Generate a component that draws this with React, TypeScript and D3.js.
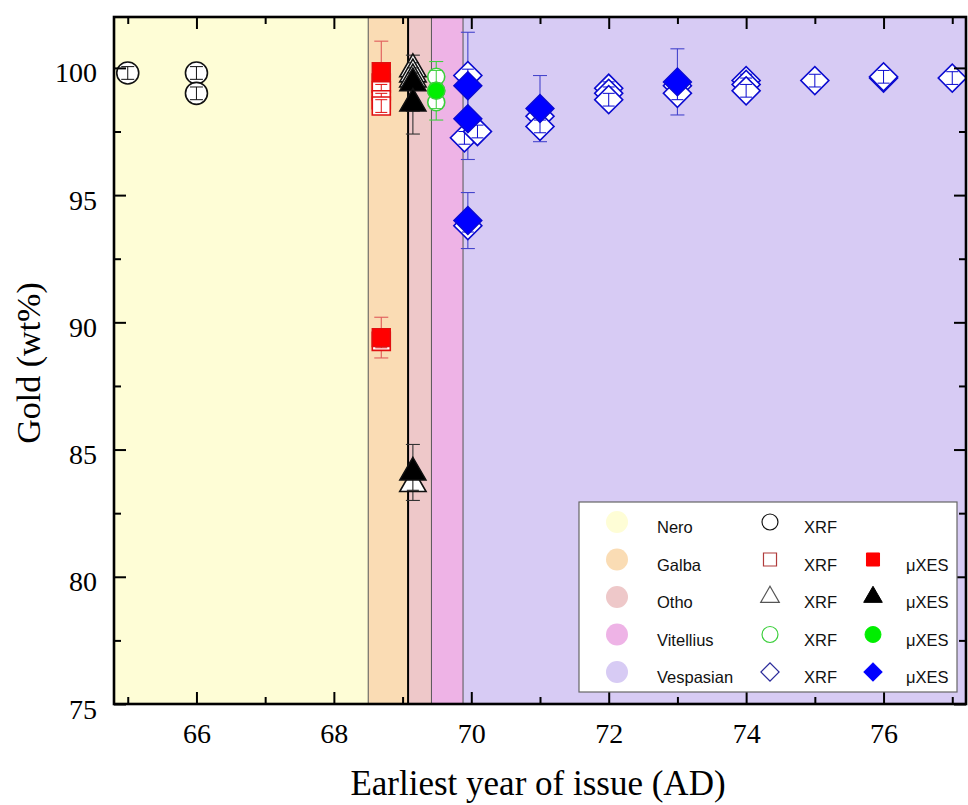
import React, { useEffect, useRef } from 'react';
import * as d3 from 'd3';

// reign bands (earliest year of issue, AD)
const emperors = ['Nero', 'Galba', 'Otho', 'Vitellius', 'Vespasian'];
const reignStart = [64.8, 68.5, 69.08, 69.42, 69.88];
const reignEnd = [68.5, 69.08, 69.42, 69.88, 77.2];

// XRF points: [year, gold wt%]
const neroXrf = [[65, 99.8], [66, 99.8], [66, 99.0]];
const galbaXrf = [[68.69, 99.4], [68.69, 99.1], [68.69, 98.75], [68.69, 98.5], [68.69, 89.25]];
const othoXrf = [[69.15, 99.95], [69.15, 99.75], [69.15, 99.55], [69.15, 83.65]];
const vitelliusXrf = [[69.49, 99.65], [69.49, 99.1], [69.49, 98.65]];
const vespasianXrf = [
  [69.95, 99.7], [69.9, 97.25], [70.09, 97.5], [69.95, 93.8],
  [71, 98.1], [71, 97.7], [72, 99.2], [72, 99.0], [72, 98.75],
  [73, 99.3], [73, 99.0], [74, 99.5], [74, 99.35], [74, 99.1],
  [75, 99.5], [76, 99.6], [76, 99.65], [77, 99.6],
];
const xrfErr = 0.25;

// µXES points: [year, gold wt%, error]
const galbaXes = [[68.69, 99.85, 1.2], [68.69, 89.4, 0.8]];
const othoXes = [[69.15, 99.4, 1.1], [69.15, 98.6, 1.2], [69.15, 84.1, 1.1]];
const vitelliusXes = [[69.49, 99.1, 1.15]];
const vespasianXes = [
  [69.95, 99.3, 2.1], [69.95, 98.0, 1.6], [69.95, 94.0, 1.1],
  [71, 98.4, 1.3], [73, 99.45, 1.3],
];

const xTicks = [66, 68, 70, 72, 74, 76];
const xMinor = [65, 67, 69, 71, 73, 75, 77];
const yTicks = [75, 80, 85, 90, 95, 100];
const yMinor = [77.5, 82.5, 87.5, 92.5, 97.5];

const styles = {
  Nero: { band: '#fefdd6', shape: 'circle', area: 380, legendArea: 200, line: '#111', fill: '#ffffff', bar: '#111' },
  Galba: { band: '#fadcb4', shape: 'square', area: 324, legendArea: 170, line: '#e01010', fill: '#ff0000', bar: '#e05a5a', legendLine: '#b03a3a' },
  Otho: { band: '#eec8c9', shape: 'triangle', area: 300, legendArea: 150, line: '#111', fill: '#000000', bar: '#333', legendLine: '#555' },
  Vitellius: { band: '#eeb3e6', shape: 'circle', area: 227, legendArea: 200, line: '#3ccf3c', fill: '#00ee00', bar: '#40d040' },
  Vespasian: { band: '#d7cbf4', shape: 'diamond', area: 392, legendArea: 165, line: '#0a0ad0', fill: '#0000ff', bar: '#4545cc', legendLine: '#2a2a9a' },
};

const xrfByEmperor = [neroXrf, galbaXrf, othoXrf, vitelliusXrf, vespasianXrf];
const xesByEmperor = [[], galbaXes, othoXes, vitelliusXes, vespasianXes];

const serif = '"Liberation Serif", "Times New Roman", serif';
const sans = '"Liberation Sans", Arial, sans-serif';

function symbolPath(shape, area) {
  const type =
    shape === 'circle' ? d3.symbolCircle : shape === 'triangle' ? d3.symbolTriangle : d3.symbolSquare;
  return d3.symbol().type(type).size(area)();
}

export default function App() {
  const ref = useRef(null);

  useEffect(() => {
    const svg = d3.select(ref.current);
    svg.selectAll('*').remove();

    const left = 114, right = 966, top = 17, bottom = 704;
    const x = d3.scaleLinear().domain([64.8, 77.2]).range([left, right]);
    const y = d3.scaleLinear().domain([75, 102]).range([bottom, top]);

    const clip = svg.append('clipPath').attr('id', 'plot-clip');
    clip.append('rect').attr('x', left).attr('y', top).attr('width', right - left).attr('height', bottom - top);

    // Reign bands
    const bands = svg.append('g').attr('clip-path', 'url(#plot-clip)');
    emperors.forEach((name, i) => {
      bands
        .append('rect')
        .attr('x', x(reignStart[i]))
        .attr('y', top)
        .attr('width', x(reignEnd[i]) - x(reignStart[i]))
        .attr('height', bottom - top)
        .attr('fill', styles[name].band);
    });
    reignStart.slice(1).forEach((yr, i) => {
      bands
        .append('line')
        .attr('x1', x(yr))
        .attr('x2', x(yr))
        .attr('y1', top)
        .attr('y2', bottom)
        .attr('stroke', i === 1 ? '#000' : '#555')
        .attr('stroke-width', i === 1 ? 2 : 1);
    });

    // Points
    const plot = svg.append('g').attr('clip-path', 'url(#plot-clip)');
    const place = (g, shape, px, py) =>
      g.attr('transform', `translate(${px},${py})${shape === 'diamond' ? ' rotate(45)' : ''}`);

    emperors.forEach((name, i) => {
      const s = styles[name];
      const path = symbolPath(s.shape, s.area);
      const half = s.shape === 'circle' ? 6.5 : 6;

      // µXES error bars
      xesByEmperor[i].forEach(([yr, v, e]) => {
        const px = x(yr);
        const eb = plot.append('g').attr('stroke', s.bar).attr('stroke-width', 1.1);
        eb.append('line').attr('x1', px).attr('x2', px).attr('y1', y(v + e)).attr('y2', y(v - e));
        [v + e, v - e].forEach((c) =>
          eb.append('line').attr('x1', px - 7).attr('x2', px + 7).attr('y1', y(c)).attr('y2', y(c))
        );
      });

      // XRF: open markers with small inner error bars
      xrfByEmperor[i].forEach(([yr, v]) => {
        const px = x(yr);
        const py = y(v);
        place(plot.append('path'), s.shape, px, py)
          .attr('d', path)
          .attr('fill', '#fff')
          .attr('stroke', s.line)
          .attr('stroke-width', 1.6);
        const eb = plot.append('g').attr('stroke', s.line).attr('stroke-width', 1);
        eb.append('line').attr('x1', px).attr('x2', px).attr('y1', y(v + xrfErr)).attr('y2', y(v - xrfErr));
        [v + xrfErr, v - xrfErr].forEach((c) =>
          eb.append('line').attr('x1', px - half).attr('x2', px + half).attr('y1', y(c)).attr('y2', y(c))
        );
      });

      // µXES: filled markers
      xesByEmperor[i].forEach(([yr, v]) => {
        place(plot.append('path'), s.shape, x(yr), y(v))
          .attr('d', path)
          .attr('fill', s.fill)
          .attr('stroke', s.line)
          .attr('stroke-width', 1.4);
      });
    });

    // Axes (ticks pointing inward)
    const fmt = d3.format('d');
    const axes = svg.append('g');
    const styleAxis = (g) => {
      g.select('.domain').remove();
      g.selectAll('line').attr('stroke', '#000').attr('stroke-width', 2);
      g.selectAll('text').attr('fill', '#000').style('font-family', serif).style('font-size', '28px');
    };
    axes.append('g').attr('transform', `translate(0,${bottom})`)
      .call(d3.axisBottom(x).tickValues(xTicks).tickSize(-12).tickPadding(19).tickFormat(fmt)).call(styleAxis);
    axes.append('g').attr('transform', `translate(0,${bottom})`)
      .call(d3.axisBottom(x).tickValues(xMinor).tickSize(-7).tickFormat(() => '')).call(styleAxis);
    axes.append('g').attr('transform', `translate(0,${top})`)
      .call(d3.axisTop(x).tickValues(xTicks).tickSize(-12).tickFormat(() => '')).call(styleAxis);
    axes.append('g').attr('transform', `translate(0,${top})`)
      .call(d3.axisTop(x).tickValues(xMinor).tickSize(-7).tickFormat(() => '')).call(styleAxis);
    const yAxis = axes.append('g').attr('transform', `translate(${left},0)`)
      .call(d3.axisLeft(y).tickValues(yTicks).tickSize(-12).tickPadding(17).tickFormat(fmt)).call(styleAxis);
    yAxis.selectAll('text').attr('dy', '0.5em');
    axes.append('g').attr('transform', `translate(${left},0)`)
      .call(d3.axisLeft(y).tickValues(yMinor).tickSize(-7).tickFormat(() => '')).call(styleAxis);
    axes.append('g').attr('transform', `translate(${right},0)`)
      .call(d3.axisRight(y).tickValues(yTicks).tickSize(-12).tickFormat(() => '')).call(styleAxis);
    axes.append('g').attr('transform', `translate(${right},0)`)
      .call(d3.axisRight(y).tickValues(yMinor).tickSize(-7).tickFormat(() => '')).call(styleAxis);

    svg.append('rect')
      .attr('x', left).attr('y', top).attr('width', right - left).attr('height', bottom - top)
      .attr('fill', 'none').attr('stroke', '#000').attr('stroke-width', 2.6);

    // Axis titles
    svg.append('text')
      .attr('x', 538).attr('y', 795)
      .attr('text-anchor', 'middle')
      .style('font-family', serif).style('font-size', '35px')
      .text('Earliest year of issue (AD)');
    svg.append('text')
      .attr('transform', `translate(40,363) rotate(-90)`)
      .attr('text-anchor', 'middle')
      .style('font-family', serif).style('font-size', '34px')
      .text('Gold (wt%)');

    // Legend
    const lg = svg.append('g').attr('transform', 'translate(579,502)');
    lg.append('rect').attr('width', 378).attr('height', 190)
      .attr('fill', '#fff').attr('stroke', '#666').attr('stroke-width', 1.2);
    emperors.forEach((name, i) => {
      const s = styles[name];
      const cy = 23 + i * 37.5;
      const row = lg.append('g').attr('transform', `translate(0,${cy})`);
      row.append('circle').attr('cx', 38).attr('cy', -3).attr('r', 11).attr('fill', s.band);
      const txt = (tx, label) =>
        row.append('text').attr('x', tx).attr('y', 8).style('font-family', sans)
          .style('font-size', '16.5px').attr('fill', '#111').text(label);
      txt(78, name);
      const p = symbolPath(s.shape, s.legendArea);
      place(row.append('path'), s.shape, 191, -3)
        .attr('d', p).attr('fill', 'none')
        .attr('stroke', s.legendLine || s.line).attr('stroke-width', 1.2);
      txt(225, 'XRF');
      if (xesByEmperor[i].length) {
        place(row.append('path'), s.shape, 294, -3)
          .attr('d', p).attr('fill', s.fill).attr('stroke', s.fill).attr('stroke-width', 1);
        txt(327, 'μXES');
      }
    });
  }, []);

  return (
    <div style={{ position: 'absolute', left: 0, top: 0, background: '#fff' }}>
      <svg ref={ref} width={968} height={805} />
    </div>
  );
}
